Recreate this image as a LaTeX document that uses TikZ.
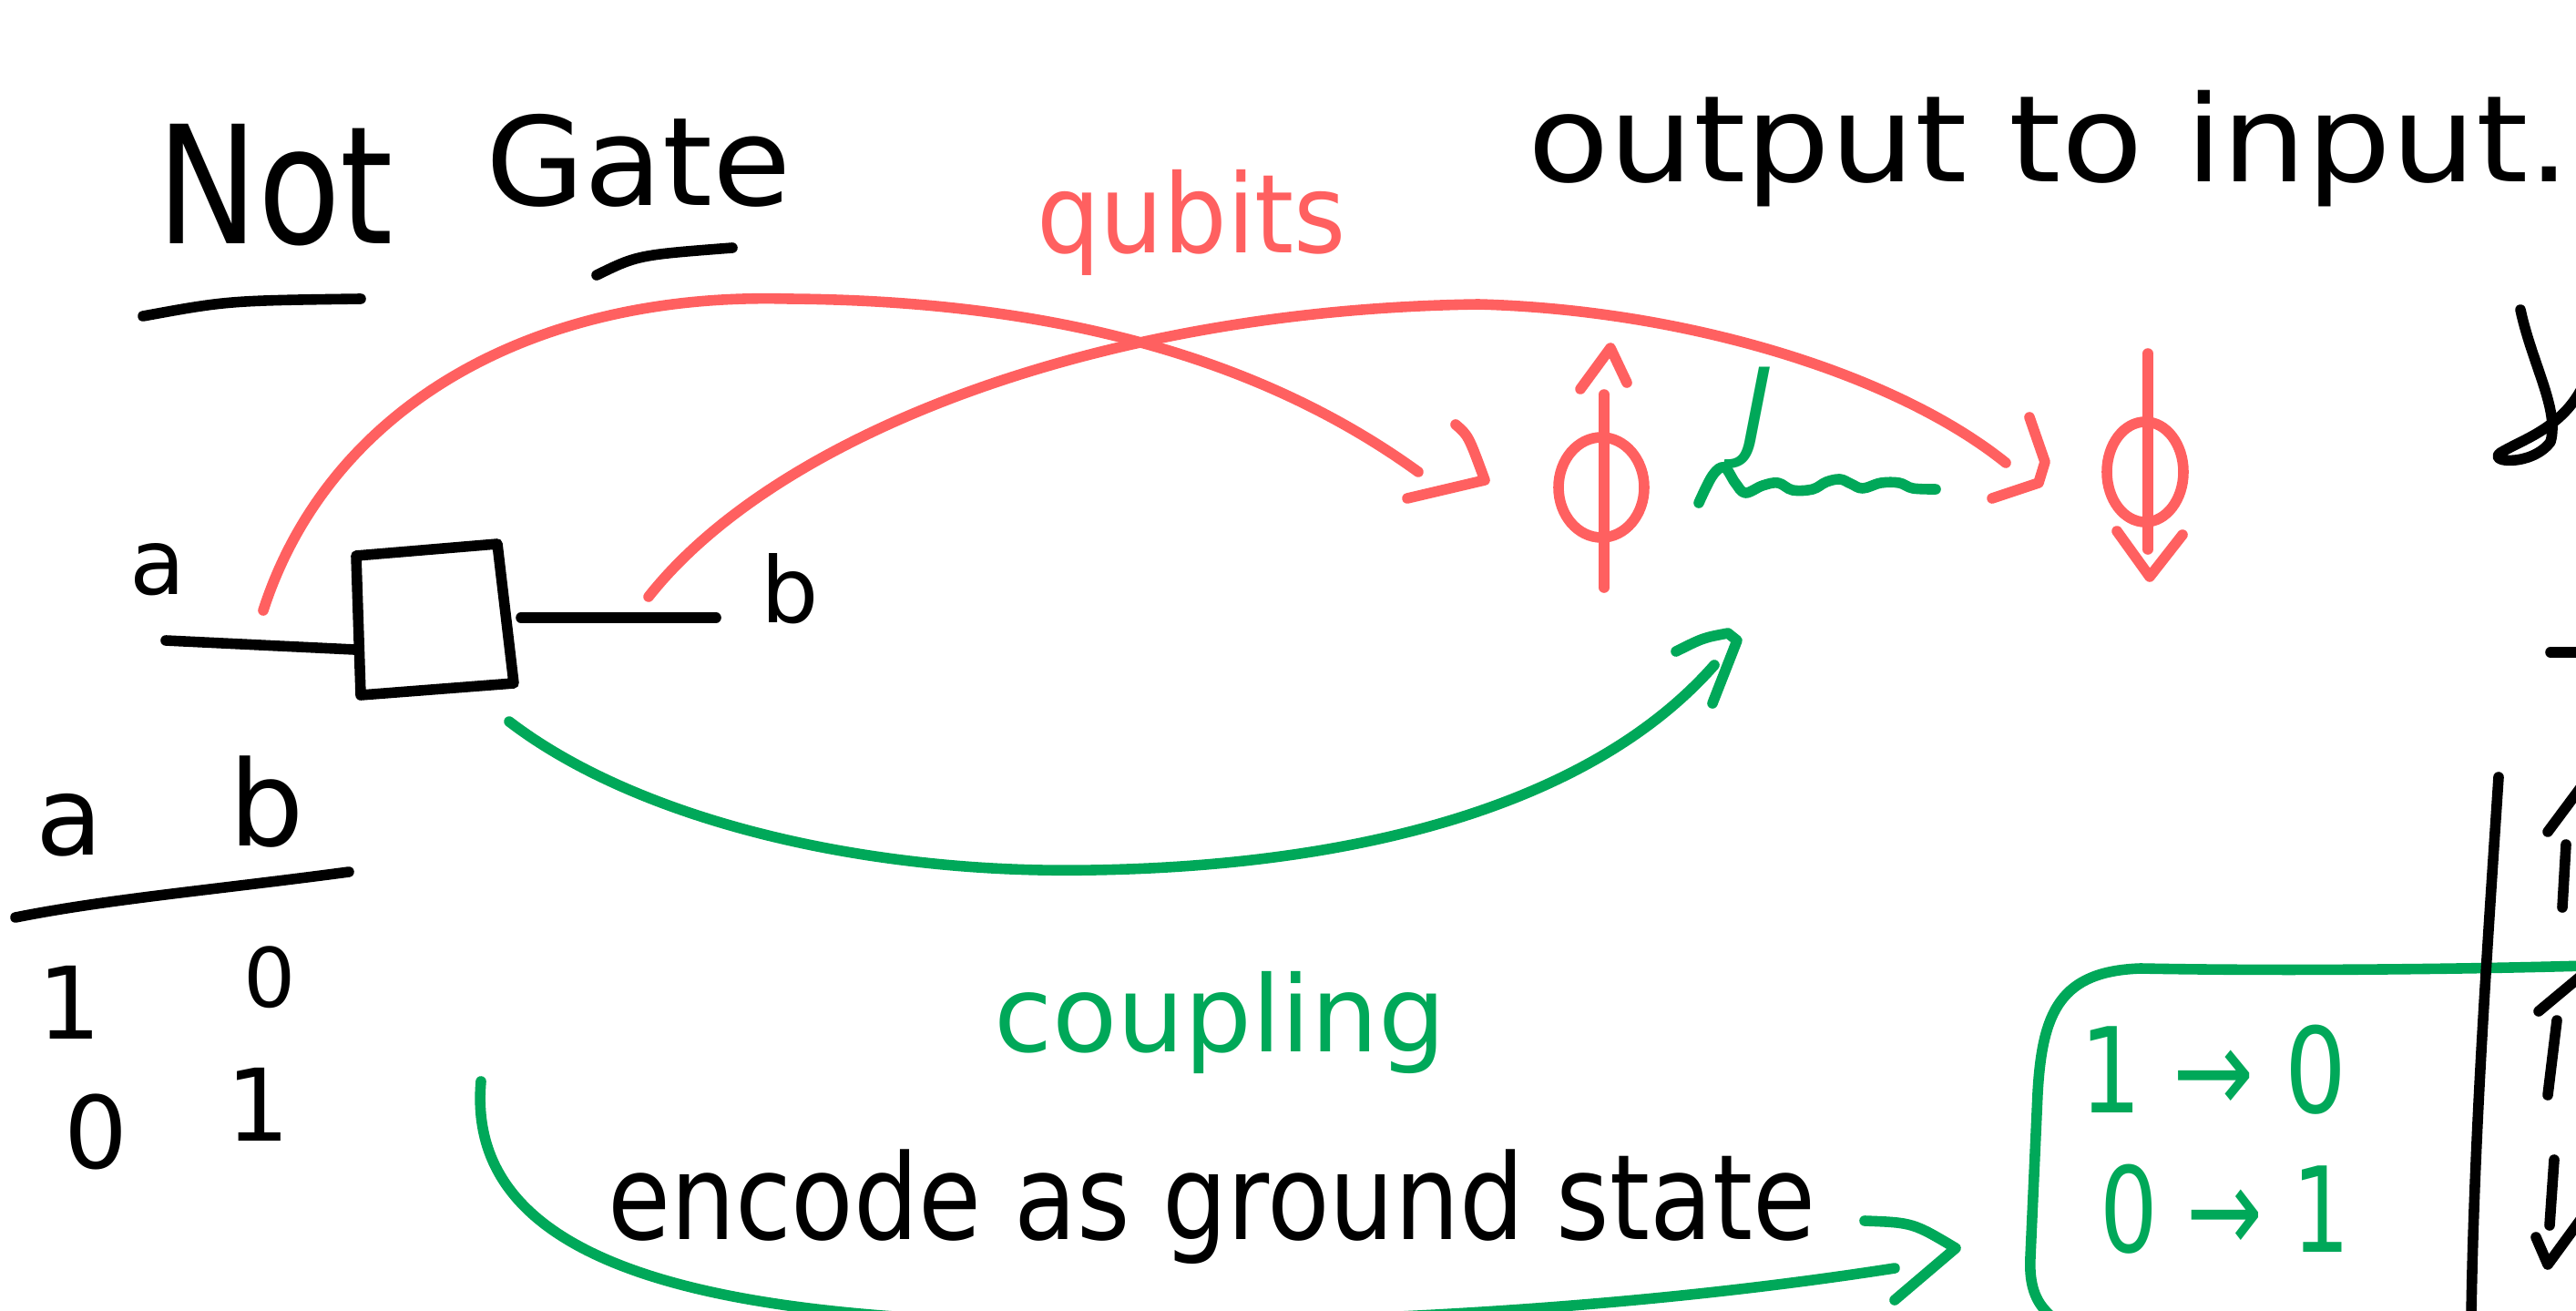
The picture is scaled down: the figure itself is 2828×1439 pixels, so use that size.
\documentclass[tikz,border=0pt]{standalone}
\usepackage{fontspec}
\setmainfont{DejaVu Sans}
\usepackage{graphicx}
\definecolor{penred}{RGB}{255,96,96}
\definecolor{pengreen}{RGB}{0,168,89}
\newcommand\hw[3]{\resizebox{#1}{\height}{\fontsize{#2}{#2}\selectfont #3}}
\newcommand\fs[1]{\fontsize{#1}{#1}\selectfont}
\begin{document}
\begin{tikzpicture}[x=0.1mm, y=-0.1mm, line cap=round, line join=round,
  pen/.style={line width=3.3pt},
  ink/.style={pen, black},
  redpen/.style={pen, penred},
  greenpen/.style={pen, pengreen},
  txt/.style={inner sep=0pt, outer sep=0pt},
  lbl/.style={txt, anchor=base west}]
\useasboundingbox (0,0) rectangle (2828,1439);
\fill[white] (0,0) rectangle (2828,1439);
\clip (0,0) rectangle (2828,1439);

% ---------- title ----------
\node[lbl] (tnot) at (172,268) {\hw{26mm}{18mm}{Not}};
\node[lbl] (tgate) at (533,226) {\hw{33.6mm}{13.5mm}{Gate}};
\draw[ink] (157,347) .. controls (250,330) .. (396,328);
\draw[ink] (655,302) .. controls (700,280) .. (804,272);

\node[lbl] (tout) at (1677,200) {\hw{114.5mm}{13.2mm}{output to input.}};

% ---------- gate ----------
\node[lbl] (la) at (143,652) {\fs{10mm}a};
\node[lbl] (lb) at (835,683) {\fs{10mm}b};
\coordinate (aw) at (182,703);
\coordinate (ae) at (389,713);
\coordinate (g1) at (391,610);
\coordinate (g2) at (546,597);
\coordinate (g3) at (564,750);
\coordinate (g4) at (396,763);
\coordinate (bw) at (572,678);
\coordinate (be) at (786,678);
\draw[ink] (aw) -- (ae);
\draw[ink] (g1) -- (g2) -- (g3) -- (g4) -- cycle;
\draw[ink] (bw) -- (be);

% ---------- truth table ----------
\node[txt] (ta) at (76,906) {\fs{12mm}a};
\node[txt] (tb) at (293,880) {\fs{13mm}b};
\draw[ink] (17,1007) .. controls (117,987) and (233,977) .. (383,957);
\node[txt] (t11) at (76,1100) {\fs{11mm}1};
\node[txt] (t12) at (296,1073) {\fs{9mm}0};
\node[txt] (t21) at (105,1242) {\fs{11mm}0};
\node[txt] (t22) at (283,1212) {\fs{11mm}1};

% ---------- qubits ----------
\node[lbl, text=penred] (tq) at (1138,277) {\hw{34mm}{12mm}{qubits}};
\coordinate (q1) at (1758,535);
\coordinate (q2) at (2355,518);
\draw[redpen] (1761,433) -- (1761,645);
\draw[redpen] (q1) ellipse [x radius=47, y radius=55];
\draw[redpen] (1735,427) -- (1768,382) -- (1786,420);
\draw[redpen] (2358,388) -- (2358,603);
\draw[redpen] (q2) ellipse [x radius=42, y radius=55];
\draw[redpen] (2324,583) -- (2360,633) -- (2396,587);

% coupling symbol
\node[txt, text=pengreen] (tj) at (1929,459) {\fs{12mm}\itshape J};
\draw[greenpen] plot[smooth, tension=0.6] coordinates {(1865,552) (1880,522) (1893,513) (1905,530) (1916,541) (1935,533) (1952,530) (1968,538) (1990,537) (2005,529) (2020,526) (2032,531) (2045,536) (2065,530) (2085,530) (2100,536) (2125,537)};

% ---------- red arcs ----------
\coordinate (r1s) at (289,670);
\coordinate (r1e) at (1557,518);
\coordinate (r2s) at (712,655);
\coordinate (r2e) at (2202,508);
\draw[redpen] (r1s) .. controls (360,450) and (580,320) .. (866,328)
  .. controls (1150,330) and (1380,390) .. (r1e);
\draw[redpen] (1598,466) .. controls (1612,478) .. (1630,527) -- (1545,547);
\draw[redpen] (r2s) .. controls (850,480) and (1200,340) .. (1623,334)
  .. controls (1850,340) and (2080,410) .. (r2e);
\draw[redpen] (2228,458) -- (2245,507) -- (2238,530) -- (2187,547);

% ---------- green arcs ----------
\coordinate (gs) at (559,792);
\coordinate (ge) at (1882,730);
\draw[greenpen] (gs) .. controls (700,900) and (950,960) .. (1200,955)
  .. controls (1500,950) and (1750,880) .. (ge);
\draw[greenpen] (1840,715) .. controls (1870,700) .. (1897,695) -- (1907,703) -- (1880,772);
\node[lbl, text=pengreen] (tc) at (1091,1154) {\hw{49.6mm}{11.6mm}{coupling}};

\node[lbl] (tenc) at (667,1360) {\hw{132.6mm}{13mm}{encode as ground state}};
\coordinate (es) at (528,1187);
\coordinate (ee) at (2080,1392);
\draw[greenpen] (es) .. controls (510,1390) and (780,1452) .. (1200,1452)
  .. controls (1600,1454) and (1900,1420) .. (ee);
\draw[greenpen] (2047,1340) .. controls (2100,1342) .. (2147,1370) -- (2080,1427);

% ---------- green box ----------
\draw[greenpen] (2840,1060) .. controls (2700,1064) and (2500,1066) .. (2350,1063)
  .. controls (2262,1066) and (2242,1110) .. (2237,1200) -- (2229,1380)
  .. controls (2227,1420) and (2240,1436) .. (2258,1450);
\node[txt, text=pengreen] (m1) at (2430,1174) {\hw{29.3mm}{13mm}{1 → 0}};
\node[txt, text=pengreen] (m2) at (2443,1327) {\hw{27.5mm}{13mm}{0 → 1}};

% ---------- right edge (cut off) ----------
\draw[ink] (2743,853) .. controls (2730,1050) and (2716,1250) .. (2713,1445);
\draw[ink] (2767,340) .. controls (2780,400) and (2810,450) .. (2800,485)
  .. controls (2780,512) and (2730,508) .. (2745,497)
  .. controls (2770,482) and (2812,470) .. (2835,425);
\draw[ink] (2800,716) -- (2835,716);
\draw[ink] (2797,913) -- (2835,862);
\draw[ink] (2817,927) -- (2813,996);
\draw[ink] (2787,1110) -- (2835,1070);
\draw[ink] (2807,1120) -- (2797,1202);
\draw[ink] (2804,1273) -- (2799,1345);
\draw[ink] (2784,1358) -- (2797,1388) -- (2835,1336);
\end{tikzpicture}
\end{document}
